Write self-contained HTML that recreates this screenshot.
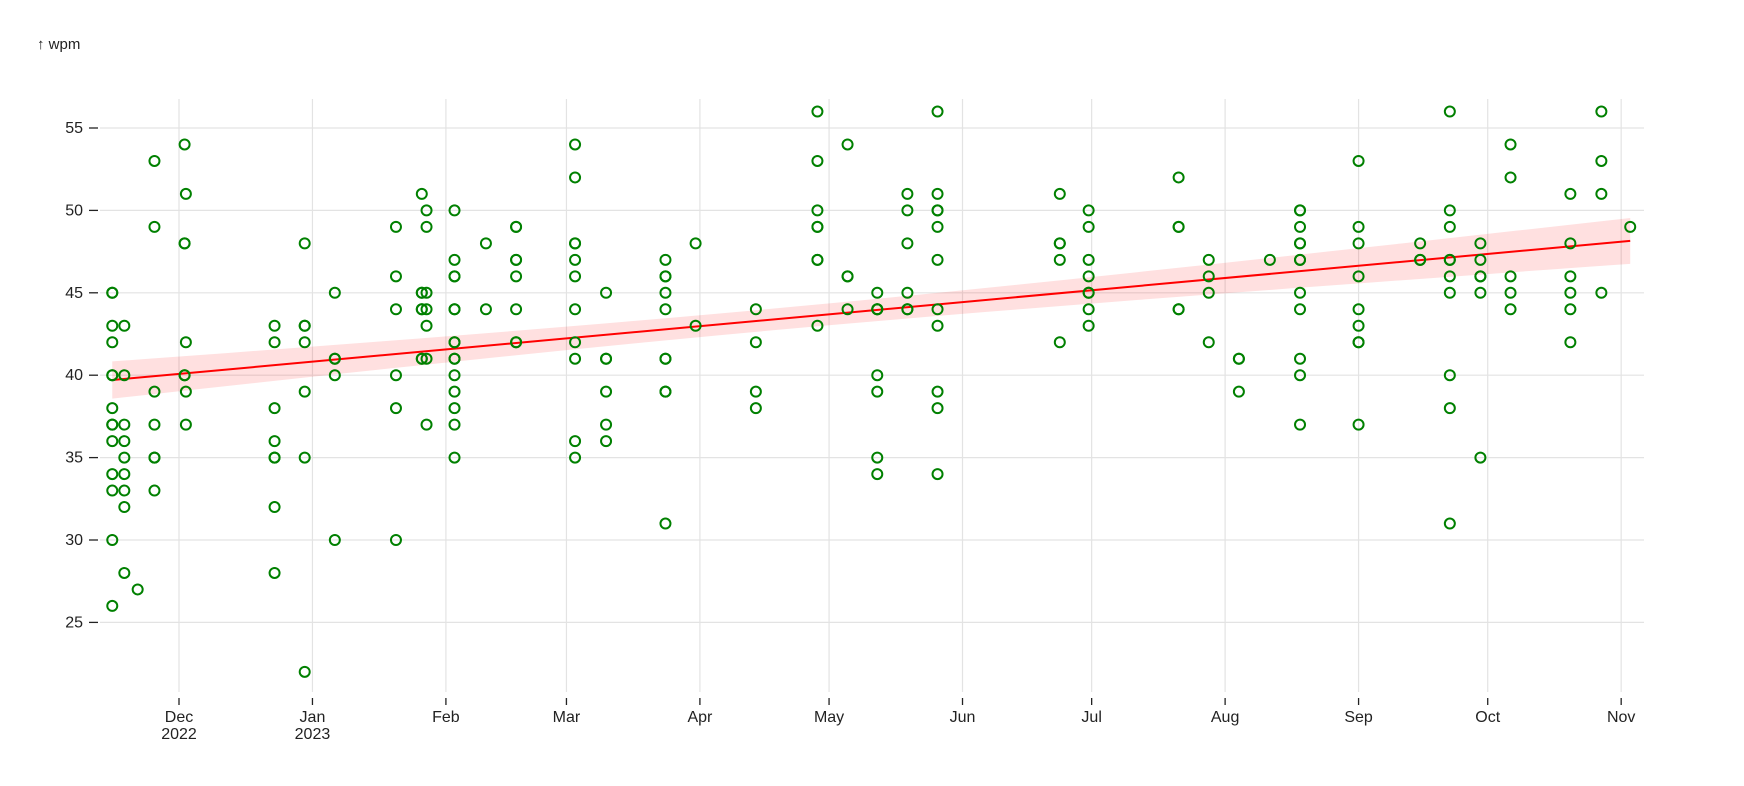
<!DOCTYPE html>
<html><head><meta charset="utf-8"><style>
html,body{margin:0;padding:0;background:#fff;}
svg{display:block;font-family:"Liberation Sans",sans-serif;}
</style></head><body>
<svg id="chart" width="1744" height="786" viewBox="0 0 1744 786" xmlns="http://www.w3.org/2000/svg">
<text x="37" y="49" font-size="15" fill="#222">↑ wpm</text>
<g id="grid"></g>
<g id="axes"></g>
<g id="band"></g>
<g id="pts"></g>
</svg>
<script>
// day offsets from 2022-12-01
const colDays = [-15.5,-12.7,-9.6,-5.7,1.3,1.6,22.2,29.2,36.2,50.4,56.4,57.5,64,71.3,78.3,92,99.2,113,120,134,148.3,155.3,162.2,169.2,176.2,204.6,211.3,232.2,239.2,246.2,253.4,260.4,274,288.3,295.2,302.3,309.3,323.2,330.4,337.1];
const colValues = [
[45,45,43,42,40,40,38,37,37,36,34,33,30,26],
[43,40,37,36,35,34,33,32,28],
[27],
[53,49,39,37,35,35,33],
[54,48,48,40,40],
[51,42,39,37],
[43,42,38,36,35,35,32,28],
[48,43,43,42,39,35,22],
[45,41,41,40,30],
[49,46,44,40,38,30],
[51,45,45,44,44,41,41],
[50,49,45,44,43,41,37],
[50,47,46,46,44,44,42,42,41,41,40,39,38,37,35],
[48,44],
[49,49,47,47,46,44,42,42],
[54,52,48,48,47,46,44,42,41,36,35],
[45,41,41,39,37,36],
[47,46,46,45,44,41,41,39,39,31],
[48,43],
[44,42,39,38],
[56,53,50,49,49,47,47,43],
[54,46,46,44],
[45,44,44,44,40,39,35,34],
[51,50,48,45,44,44],
[56,51,50,50,49,47,44,43,39,38,34],
[51,48,48,47,42],
[50,49,47,46,45,45,44,43],
[52,49,49,44,44],
[47,46,45,42],
[41,41,39],
[47],
[50,50,49,48,48,47,47,45,44,41,40,37],
[53,49,48,46,44,43,42,42,37],
[48,47,47],
[56,50,49,47,47,46,45,40,38,31],
[48,47,46,46,45,35],
[54,52,46,45,44],
[51,48,46,45,44,42],
[56,53,51,45],
[49]
];
const monthDays = [0,31,62,90,121,151,182,212,243,274,304,335];
const monthLabels = ["Dec","Jan","Feb","Mar","Apr","May","Jun","Jul","Aug","Sep","Oct","Nov"];
const monthSub = ["2022","2023","","","","","","","","","",""];
const yTicks = [25,30,35,40,45,50,55];

const NS="http://www.w3.org/2000/svg";
const X = d => 179 + d*4.305;
const Y = v => 128 + (55-v)*16.48;
function mk(tag, attrs, parent){const e=document.createElementNS(NS,tag);for(const k in attrs)e.setAttribute(k,attrs[k]);parent.appendChild(e);return e;}
const grid=document.getElementById('grid'), axes=document.getElementById('axes'), band=document.getElementById('band'), pts=document.getElementById('pts');

yTicks.forEach(v=>{
  const l=mk('line',{x1:100,x2:1644,y1:Y(v),y2:Y(v),stroke:'#e3e3e3','stroke-width':1.2},grid);
  
  
  const t=mk('line',{x1:89,x2:98,y1:Y(v),y2:Y(v),stroke:'#222','stroke-width':1.3},axes);
  
  
  const tx=mk('text',{x:83,y:Y(v)+5,'text-anchor':'end','font-size':16,fill:'#222'},axes);
  tx.textContent=v;
  
  
});
monthDays.forEach((d,i)=>{
  const l=mk('line',{x1:X(d),x2:X(d),y1:99,y2:692,stroke:'#e3e3e3','stroke-width':1.2},grid);
  
  
  const t=mk('line',{x1:X(d),x2:X(d),y1:698,y2:705,stroke:'#222','stroke-width':1.3},axes);
  
  
  const tx=mk('text',{x:X(d),y:712,'text-anchor':'middle','font-size':16,fill:'#222'},axes);
  
  
  const s1=mk('tspan',{x:X(d),dy:10},tx); s1.textContent=monthLabels[i];
  if(monthSub[i]){const s2=mk('tspan',{x:X(d),dy:17},tx); s2.textContent=monthSub[i];}
});

// regression
const xs=[],ys=[];
colDays.forEach((d,i)=>colValues[i].forEach(v=>{xs.push(d);ys.push(v);}));
const n=xs.length, mx=xs.reduce((a,b)=>a+b)/n, my=ys.reduce((a,b)=>a+b)/n;
let sxx=0,sxy=0;for(let i=0;i<n;i++){sxx+=(xs[i]-mx)**2;sxy+=(xs[i]-mx)*(ys[i]-my);}
const b=sxy/sxx,a=my-b*mx;
let sse=0;for(let i=0;i<n;i++)sse+=(ys[i]-a-b*xs[i])**2;
const se=Math.sqrt(sse/(n-2));
const x0=Math.min(...xs),x1=Math.max(...xs);
const up=[],lo=[];
for(let k=0;k<=40;k++){const x=x0+(x1-x0)*k/40;const h=1.96*se*Math.sqrt(1/n+(x-mx)**2/sxx);up.push(X(x)+','+Y(a+b*x+h));lo.unshift(X(x)+','+Y(a+b*x-h));}
const poly=mk('polygon',{points:up.concat(lo).join(' '),fill:'#ff0000','fill-opacity':0.12},band);



colDays.forEach((d,i)=>colValues[i].forEach(v=>{
  const c=mk('circle',{cx:X(d),cy:Y(v),r:5,fill:'none',stroke:'#008000','stroke-width':2},pts);
  
  
}));
const rl=mk('line',{x1:X(x0),y1:Y(a+b*x0),x2:X(x1),y2:Y(a+b*x1),stroke:'#ff0000','stroke-width':2},band);


</script>
</body></html>
